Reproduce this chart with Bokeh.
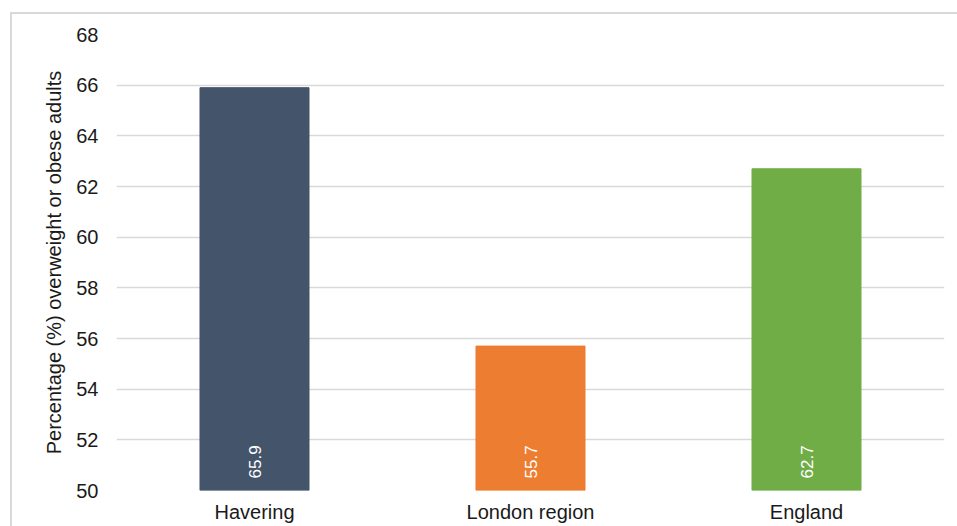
import math
from bokeh.plotting import figure
from bokeh.models import ColumnDataSource, FactorRange, Range1d, FixedTicker
from bokeh.core.properties import value
from bokeh.embed import file_html
from bokeh.resources import INLINE

areas = ["Havering", "London region", "England"]
percentages = [65.9, 55.7, 62.7]
labels = ["65.9", "55.7", "62.7"]
colors = ["#44546A", "#ED7D31", "#70AD47"]
y_ticks = [50, 52, 54, 56, 58, 60, 62, 64, 66, 68]

FONT = "Liberation Sans"

src = ColumnDataSource(dict(x=areas, top=percentages, label=labels, color=colors,
                            base=[50] * len(areas)))

p = figure(width=947, height=514, x_range=FactorRange(*areas, range_padding=0),
           y_range=Range1d(50, 68), output_backend="svg", toolbar_location=None,
           min_border_left=104, min_border_right=15, min_border_top=20, min_border_bottom=38)
p.margin = (12, 0, 0, 10)
p.styles = {"border-left": "2px solid #d9d9d9", "border-top": "2px solid #d9d9d9"}
p.outline_line_color = None
p.background_fill_color = "white"
p.border_fill_color = "white"

p.vbar(x="x", top="top", bottom="base", width=0.395, color="color", source=src)

p.text(x="x", y="base", text="label", source=src, angle=math.pi / 2,
       y_offset=-12, text_align="left", text_baseline="middle",
       text_color="white", text_font=value(FONT), text_font_size="17px")

p.xgrid.grid_line_color = None
p.ygrid.grid_line_color = "#d9d9d9"
p.ygrid.grid_line_width = 1.5
p.yaxis.ticker = FixedTicker(ticks=y_ticks)

for ax in (p.xaxis[0], p.yaxis[0]):
    ax.axis_line_color = None
    ax.major_tick_line_color = None
    ax.minor_tick_line_color = None
    ax.major_tick_out = 0
    ax.major_tick_in = 0
    ax.major_label_text_font = FONT
    ax.major_label_text_font_size = "20px"
    ax.major_label_text_color = "#1a1a1a"

p.yaxis.major_label_standoff = 18
p.yaxis.axis_label = "Percentage (%) overweight or obese adults"
p.yaxis.axis_label_text_font = FONT
p.yaxis.axis_label_text_font_size = "20px"
p.yaxis.axis_label_text_font_style = "normal"
p.yaxis.axis_label_text_color = "#1a1a1a"
p.yaxis.axis_label_standoff = 8
p.xaxis.major_label_standoff = 10

open("out.html", "w").write(file_html(p, INLINE))
